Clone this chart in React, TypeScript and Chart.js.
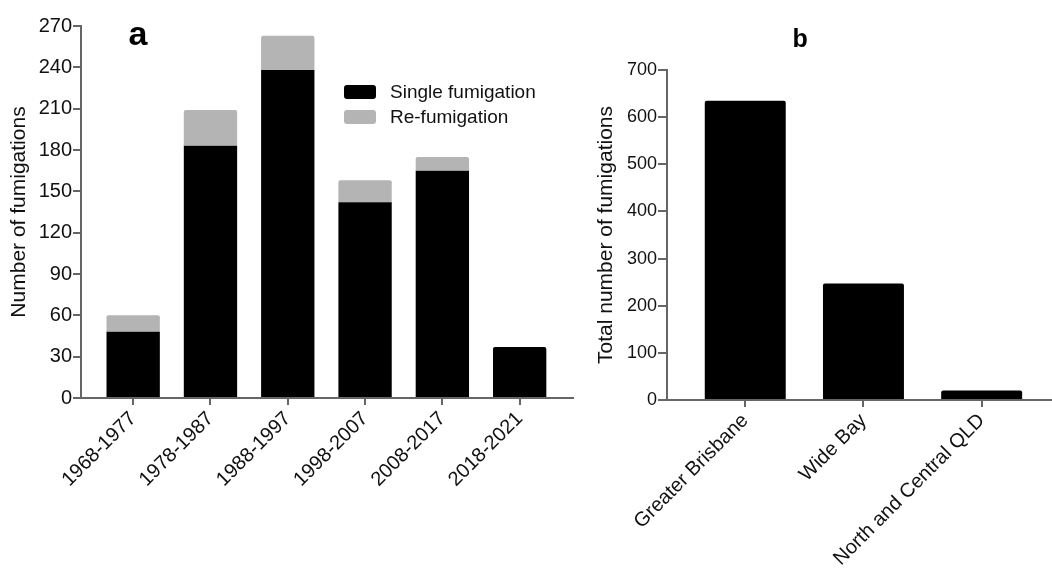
import React, { useEffect, useRef } from "react";
import { Chart, registerables } from "chart.js";

Chart.register(...registerables);

// ---- Data: panel a ----
const periods = ["1968-1977", "1978-1987", "1988-1997", "1998-2007", "2008-2017", "2018-2021"];
const singleFumigation = [48, 183, 238, 142, 165, 37];
const reFumigation = [12, 26, 25, 16, 10, 0];
const seriesNamesA = ["Single fumigation", "Re-fumigation"];
const yTicksA = { min: 0, max: 270, step: 30 };

// ---- Data: panel b ----
const regions = ["Greater Brisbane", "Wide Bay", "North and Central QLD"];
const totalFumigations = [635, 247, 20];
const yTicksB = { min: 0, max: 700, step: 100 };

const FONT = "'Liberation Sans', Arial, Helvetica, sans-serif";
const AXIS_COLOR = "#666";
const BLACK = "#000000";
const GREY = "#b4b4b4";

function axisX(labels: string[], min: number, max: number, fontSize: number, height: number) {
  return {
    type: "linear" as const,
    min,
    max,
    offset: false,
    stacked: true,
    afterBuildTicks: (scale: any) => {
      scale.ticks = labels.map((_, i) => ({ value: i }));
    },
    afterFit: (scale: any) => {
      scale.height = height;
    },
    ticks: {
      autoSkip: false,
      maxRotation: 45,
      minRotation: 45,
      padding: 2,
      color: "#111",
      font: { family: FONT, size: fontSize },
      callback: (v: any) => (Number.isInteger(v) ? labels[v] ?? "" : ""),
    },
    grid: {
      display: true,
      offset: false,
      drawOnChartArea: false,
      drawTicks: true,
      tickLength: 7,
      color: AXIS_COLOR,
      lineWidth: 2,
    },
    border: { display: true, color: AXIS_COLOR, width: 2 },
  };
}

function axisY(t: { min: number; max: number; step: number }, title: string, fontSize: number, width: number, titlePad: number, tickLen: number) {
  return {
    min: t.min,
    max: t.max,
    stacked: true,
    afterFit: (scale: any) => {
      scale.width = width;
    },
    ticks: {
      stepSize: t.step,
      padding: 1,
      color: "#111",
      font: { family: FONT, size: fontSize },
    },
    grid: {
      display: true,
      drawOnChartArea: false,
      drawTicks: true,
      tickLength: tickLen,
      color: AXIS_COLOR,
      lineWidth: 2,
    },
    border: { display: true, color: AXIS_COLOR, width: 2 },
    title: {
      display: true,
      text: title,
      color: "#111",
      font: { family: FONT, size: 21 },
      padding: { top: titlePad, bottom: 0 },
    },
  };
}

function PanelA() {
  const ref = useRef<HTMLCanvasElement>(null);
  useEffect(() => {
    if (!ref.current) return;
    const chart = new Chart(ref.current, {
      type: "bar",
      data: {
        datasets: [
          {
            label: seriesNamesA[0],
            data: singleFumigation.map((v, i) => ({ x: i, y: v })),
            backgroundColor: BLACK,
            borderRadius: 2,
            borderSkipped: "start",
            categoryPercentage: 1,
            barPercentage: 0.69,
          },
          {
            label: seriesNamesA[1],
            data: reFumigation.map((v, i) => ({ x: i, y: v })),
            backgroundColor: GREY,
            borderRadius: 2,
            borderSkipped: "start",
            categoryPercentage: 1,
            barPercentage: 0.69,
          },
        ],
      },
      options: {
        animation: false,
        responsive: false,
        maintainAspectRatio: false,
        layout: { padding: { top: 26, right: 12, left: 0, bottom: 0 } },
        plugins: { legend: { display: false }, tooltip: { enabled: false }, title: { display: false } },
        scales: {
          x: axisX(periods, -0.675, 5.69, 20, 172),
          y: axisY(yTicksA, "Number of fumigations", 20, 81, 7, 8),
        },
      } as any,
    });
    return () => chart.destroy();
  }, []);
  return <canvas ref={ref} width={585} height={570} style={{ position: "absolute", left: 0, top: 0, width: 585, height: 570 }} />;
}

function PanelB() {
  const ref = useRef<HTMLCanvasElement>(null);
  useEffect(() => {
    if (!ref.current) return;
    const chart = new Chart(ref.current, {
      type: "bar",
      data: {
        datasets: [
          {
            label: "Total number of fumigations",
            data: totalFumigations.map((v, i) => ({ x: i, y: v })),
            backgroundColor: BLACK,
            borderRadius: 2,
            borderSkipped: "start",
            categoryPercentage: 1,
            barPercentage: 0.685,
          },
        ],
      },
      options: {
        animation: false,
        responsive: false,
        maintainAspectRatio: false,
        layout: { padding: { top: 70, right: 0, left: 0, bottom: 0 } },
        plugins: { legend: { display: false }, tooltip: { enabled: false }, title: { display: false } },
        scales: {
          x: axisX(regions, -0.662, 2.595, 20, 170),
          y: axisY(yTicksB, "Total number of fumigations", 18, 82, 9, 9),
        },
      } as any,
    });
    return () => chart.destroy();
  }, []);
  return <canvas ref={ref} width={467} height={570} style={{ position: "absolute", left: 585, top: 0, width: 467, height: 570 }} />;
}

const legendColors = [BLACK, GREY];

export default function App() {
  return (
    <div style={{ position: "fixed", left: 0, top: 0, width: 1052, height: 570, background: "#fff", overflow: "hidden" }}>
      <PanelA />
      <PanelB />
      <div style={{ position: "absolute", left: 128.5, top: 16.2, fontFamily: FONT, fontWeight: 700, fontSize: 34, lineHeight: "34px", color: "#000" }}>a</div>
      <div style={{ position: "absolute", left: 792.5, top: 25.5, fontFamily: FONT, fontWeight: 700, fontSize: 25, lineHeight: "25px", color: "#000" }}>b</div>
      {seriesNamesA.map((name, i) => (
        <div key={name} style={{ position: "absolute", left: 344, top: 80 + i * 24.5, height: 24, display: "flex", alignItems: "center", fontFamily: FONT, fontSize: 19, color: "#111" }}>
          <span style={{ display: "inline-block", width: 32, height: 14, background: legendColors[i], borderRadius: 3, marginRight: 14 }} />
          <span>{name}</span>
        </div>
      ))}
    </div>
  );
}
